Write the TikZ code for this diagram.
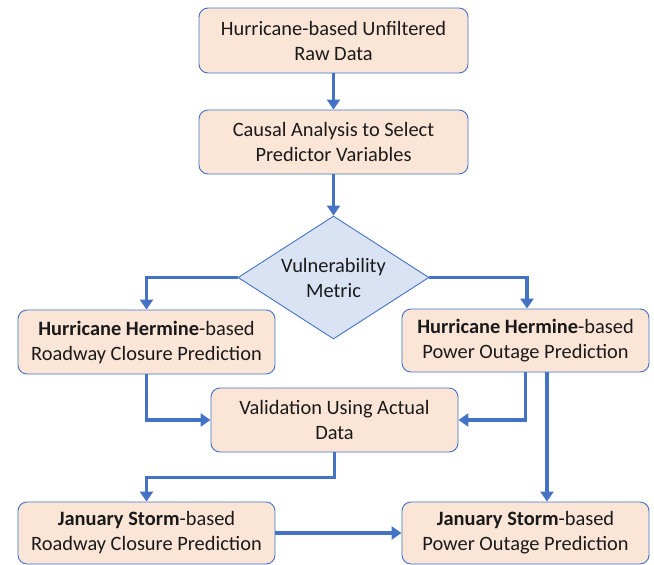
\documentclass[tikz,border=0pt]{standalone}
\usepackage{fontspec}
\setmainfont{Carlito}
\usetikzlibrary{arrows.meta,shapes.geometric,calc}
\definecolor{flowblue}{HTML}{4472C4}
\definecolor{boxfill}{HTML}{FBE5D6}
\definecolor{diafill}{HTML}{DAE3F3}
\definecolor{txt}{HTML}{1A1A1A}
\tikzset{
  procbox/.style={draw=flowblue, line width=0.9pt, fill=boxfill, rounded corners=9pt,
    align=center, inner sep=0pt, text=txt, font=\fontsize{20.4}{25}\selectfont},
  decision/.style={draw=flowblue, line width=0.9pt, fill=diafill, diamond, aspect=1.55,
    minimum width=191pt, minimum height=123pt, inner sep=0pt, align=center, text=txt,
    font=\fontsize{20.4}{25}\selectfont},
  flow/.style={draw=flowblue, line width=3.6pt, -{Triangle[width=13pt,length=10pt]}}
}
\begin{document}
\begin{tikzpicture}[x=1pt,y=-1pt]
\useasboundingbox (0,0) rectangle (654,565);
\node[procbox, minimum width=269pt, minimum height=65pt] (raw) at (333.5,40.5) {Hurricane-based Unfiltered\\Raw Data};
\node[procbox, minimum width=269pt, minimum height=64pt] (causal) at (333.5,142) {Causal Analysis to Select\\Predictor Variables};
\node[decision] (vm) at (333.5,277.5) {Vulnerability\\Metric};
\node[procbox, minimum width=257pt, minimum height=64pt] (hrc) at (146.5,342) {\textbf{Hurricane Hermine}-based\\Roadway Closure Prediction};
\node[procbox, minimum width=247pt, minimum height=63pt] (hpo) at (525.5,340.5) {\textbf{Hurricane Hermine}-based\\Power Outage Prediction};
\node[procbox, minimum width=247pt, minimum height=64pt] (val) at (334.5,420) {Validation Using Actual\\Data};
\node[procbox, minimum width=257pt, minimum height=62pt] (jrc) at (146.5,533) {\textbf{January Storm}-based\\Roadway Closure Prediction};
\node[procbox, minimum width=247pt, minimum height=62pt] (jpo) at (525.5,533) {\textbf{January Storm}-based\\Power Outage Prediction};

\draw[flow] (raw.south) -- (causal.north);
\draw[flow] (causal.south) -- (vm.north);
\draw[flow] (vm.west) -| (hrc.north);
\draw[flow] (vm.east) -| ([xshift=1.5pt]hpo.north);
\draw[flow] (hrc.south) |- (val.west);
\draw[flow] (hpo.south) |- (val.east);
\draw[flow] ([xshift=21.5pt]hpo.south) -- ([xshift=21.5pt]jpo.north);
\draw[flow] (val.south) -- ++(0,25) -| (jrc.north);
\draw[flow] (jrc.east) -- (jpo.west);
\end{tikzpicture}
\end{document}
